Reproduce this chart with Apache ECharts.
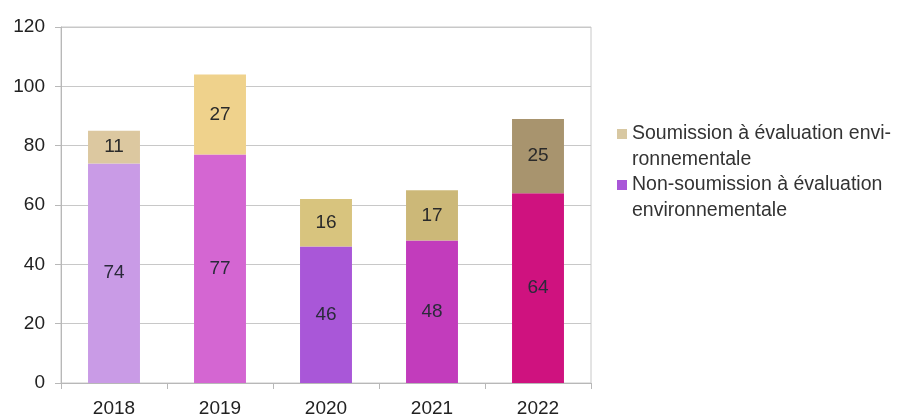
<!DOCTYPE html>
<html>
<head>
<meta charset="utf-8">
<script src="https://cdn.jsdelivr.net/npm/echarts@6/dist/echarts.min.js"></script>
<style>html,body{margin:0;padding:0;background:#fff}#c{width:905px;height:419px}</style>
</head>
<body>
<div id="c"></div>
<script>
const categories = ['2018', '2019', '2020', '2021', '2022'];
const nonSoumission = [74, 77, 46, 48, 64];
const soumission = [11, 27, 16, 17, 25];
const nonSoumissionColors = ['#c99be6', '#d466d2', '#a957d8', '#c23cbc', '#cf127f'];
const soumissionColors = ['#dcc8a0', '#efd28c', '#d8c47e', '#ccb878', '#a8946e'];
const seriesNames = ['Non-soumission à évaluation\nenvironnementale', 'Soumission à évaluation envi-\nronnementale'];

const chart = echarts.init(document.getElementById('c'));
const font = 'Liberation Sans, Arial, sans-serif';
function mk(vals, cols) {
  return vals.map((v, i) => ({ value: v, itemStyle: { color: cols[i] } }));
}
chart.setOption({
  animation: false,
  textStyle: { fontFamily: font },
  grid: { left: 61, right: 314, top: 27, bottom: 36, show: true, borderColor: '#c8c8c8', borderWidth: 1 },
  legend: {
    orient: 'vertical', left: 612, top: 116,
    data: [seriesNames[1], seriesNames[0]],
    itemWidth: 10, itemHeight: 36, itemGap: -1,
    icon: 'path://M0,0L10,0L10,10L0,10ZM0,36',
    textStyle: { fontSize: 19.5, color: '#333', lineHeight: 26, fontFamily: font }
  },
  xAxis: {
    type: 'category', data: categories,
    axisLine: { lineStyle: { color: '#b8b8b8' } },
    axisTick: { show: true, length: 6, lineStyle: { color: '#b8b8b8' } },
    axisLabel: { fontSize: 19, color: '#222', margin: 16 }
  },
  yAxis: {
    type: 'value', min: 0, max: 120, interval: 20,
    axisLine: { show: true, lineStyle: { color: '#b8b8b8' } },
    axisTick: { show: true, length: 6, lineStyle: { color: '#b8b8b8' } },
    splitLine: { lineStyle: { color: '#c8c8c8' } },
    axisLabel: { fontSize: 19, color: '#222', margin: 16 }
  },
  series: [
    {
      name: seriesNames[0], type: 'bar', stack: 's', barWidth: '49%',
      color: '#a957d8',
      data: mk(nonSoumission, nonSoumissionColors),
      label: { show: true, position: 'inside', fontSize: 19, color: '#2a2a3a', fontFamily: font }
    },
    {
      name: seriesNames[1], type: 'bar', stack: 's', barWidth: '49%',
      color: '#d8c8a2',
      data: mk(soumission, soumissionColors),
      label: { show: true, position: 'inside', fontSize: 19, color: '#2a2a2a', fontFamily: font }
    }
  ]
});
</script>
</body>
</html>
